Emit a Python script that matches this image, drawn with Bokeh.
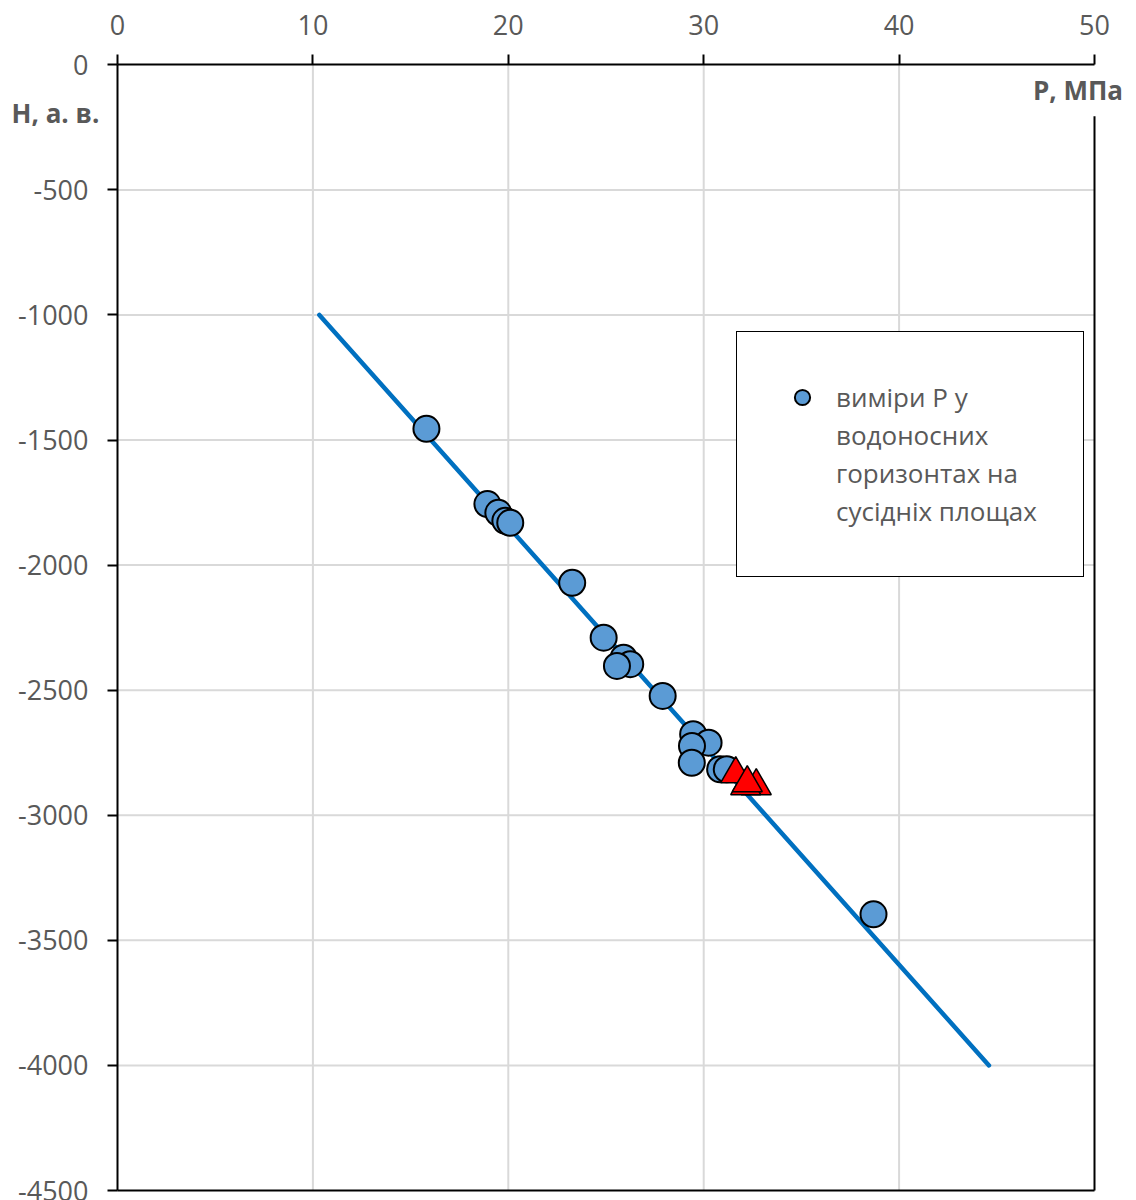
from bokeh.plotting import figure
from bokeh.models import FixedTicker, Legend, LegendItem, Label, Range1d
from bokeh.embed import file_html
from bokeh.resources import INLINE

# ---- data ----
x_ticks = [0, 10, 20, 30, 40, 50]
y_ticks = [0, -500, -1000, -1500, -2000, -2500, -3000, -3500, -4000, -4500]

# measured pressures in aquifers of neighbouring areas (circles)
circle_p = [15.81, 18.93, 19.49, 19.85, 20.10, 23.27, 24.88, 25.90, 26.24, 25.56,
            27.90, 29.46, 30.25, 29.40, 29.39, 30.84, 31.18, 38.69]
circle_h = [-1455, -1756, -1791, -1823, -1831, -2071, -2290, -2370, -2396, -2403,
            -2523, -2676, -2710, -2723, -2790, -2816, -2816, -3396]

# red triangles
tri_p = [32.69, 32.15, 31.64, 32.23]
tri_h = [-2883, -2883, -2835, -2871]

# trend line
line_p = [10.33, 44.6]
line_h = [-1000, -4000]

legend_lines = ["виміри Р у", "водоносних", "горизонтах на", "сусідніх площах"]
x_title = "Р, МПа"
y_title = "Н, а. в."

TEXT = "#595959"
FONT = "Open Sans"
W, H = 1136, 1200

# the frame covers the whole canvas; axes are pinned at P = 0 and H = 0
x_min, x_max = x_ticks[0], x_ticks[-1]
y_min, y_max = y_ticks[-1], y_ticks[0]
px0, px1 = 117.0, 1094.0      # canvas pixels of x_min, x_max
py0, py1 = 64.3, 1190.0       # canvas pixels of y_max, y_min
sx = (px1 - px0) / (x_max - x_min)
sy = (py1 - py0) / (y_max - y_min)
x_range = Range1d(x_min - px0 / sx, x_min + (W - px0) / sx)
y_range = Range1d(y_max - (H - py0) / sy, y_max + py0 / sy)

p = figure(width=W, height=H, x_range=x_range, y_range=y_range,
           x_axis_location="above",
           output_backend="svg", toolbar_location=None,
           min_border_left=0, min_border_right=0,
           min_border_top=0, min_border_bottom=0)

p.background_fill_color = "white"
p.border_fill_color = "white"
p.outline_line_color = None
p.xgrid.visible = False
p.ygrid.visible = False

for ax in (p.xaxis, p.yaxis):
    ax.axis_line_color = "black"
    ax.axis_line_width = 2
    ax.major_tick_line_color = "black"
    ax.major_tick_line_width = 2
    ax.major_tick_out = 10
    ax.major_tick_in = 0
    ax.minor_tick_line_color = None
    ax.major_label_text_font = FONT
    ax.major_label_text_font_size = "27px"
    ax.major_label_text_color = TEXT

p.xaxis.fixed_location = y_max
p.yaxis.fixed_location = x_min
p.xaxis.bounds = (x_min, x_max)
p.yaxis.bounds = (y_min, y_max)
p.xaxis.ticker = FixedTicker(ticks=x_ticks)
p.yaxis.ticker = FixedTicker(ticks=y_ticks)
p.yaxis.major_label_overrides = {v: str(v) for v in y_ticks}
p.xaxis.major_label_standoff = 20
p.yaxis.major_label_standoff = 19

GRID = "#d9d9d9"
gx = x_ticks[1:-1]
gy = y_ticks[1:-1]
p.segment(x0=gx, y0=[y_min] * len(gx), x1=gx, y1=[y_max] * len(gx),
          line_color=GRID, line_width=2)
p.segment(x0=[x_min] * len(gy), y0=gy, x1=[x_max] * len(gy), y1=gy,
          line_color=GRID, line_width=2)

# plot-area border (bottom and right)
title_y = -191
p.segment(x0=[x_min, x_max], y0=[y_min, y_min], x1=[x_max, x_max], y1=[y_min, title_y - 15],
          line_color="black", line_width=2)

p.line(line_p, line_h, line_color="#0070c0", line_width=4.5, line_cap="round")

circ = p.scatter(circle_p, circle_h, marker="circle", size=26,
                 fill_color="#5b9bd5", line_color="black", line_width=2)
p.scatter(tri_p, tri_h, marker="triangle", size=30,
          fill_color="#ff0000", line_color="black", line_width=1.5)

dummy = p.scatter(x=[], y=[], marker="circle", fill_alpha=0, line_alpha=0)

items = [LegendItem(label=legend_lines[0], renderers=[circ])]
for t in legend_lines[1:]:
    items.append(LegendItem(label=t, renderers=[dummy]))

legend = Legend(items=items, location=(736, H - 577),
                label_text_font=FONT, label_text_font_size="26px",
                label_text_color=TEXT, label_height=38,
                glyph_width=38, glyph_height=38, spacing=0,
                label_standoff=15, padding=46, margin=0,
                border_line_color="black", border_line_width=1.5,
                border_line_alpha=1,
                background_fill_color="white", background_fill_alpha=1)
p.add_layout(legend)

p.add_layout(Label(x=x_min - 5.42, y=title_y, text=y_title, text_font=FONT,
                   text_font_size="26px", text_font_style="bold",
                   text_color=TEXT, text_align="left", text_baseline="middle"))
p.add_layout(Label(x=46.85, y=-99, text=x_title, text_font=FONT,
                   text_font_size="26px", text_font_style="bold",
                   text_color=TEXT, text_align="left", text_baseline="middle"))

open("out.html", "w").write(file_html(p, INLINE))
